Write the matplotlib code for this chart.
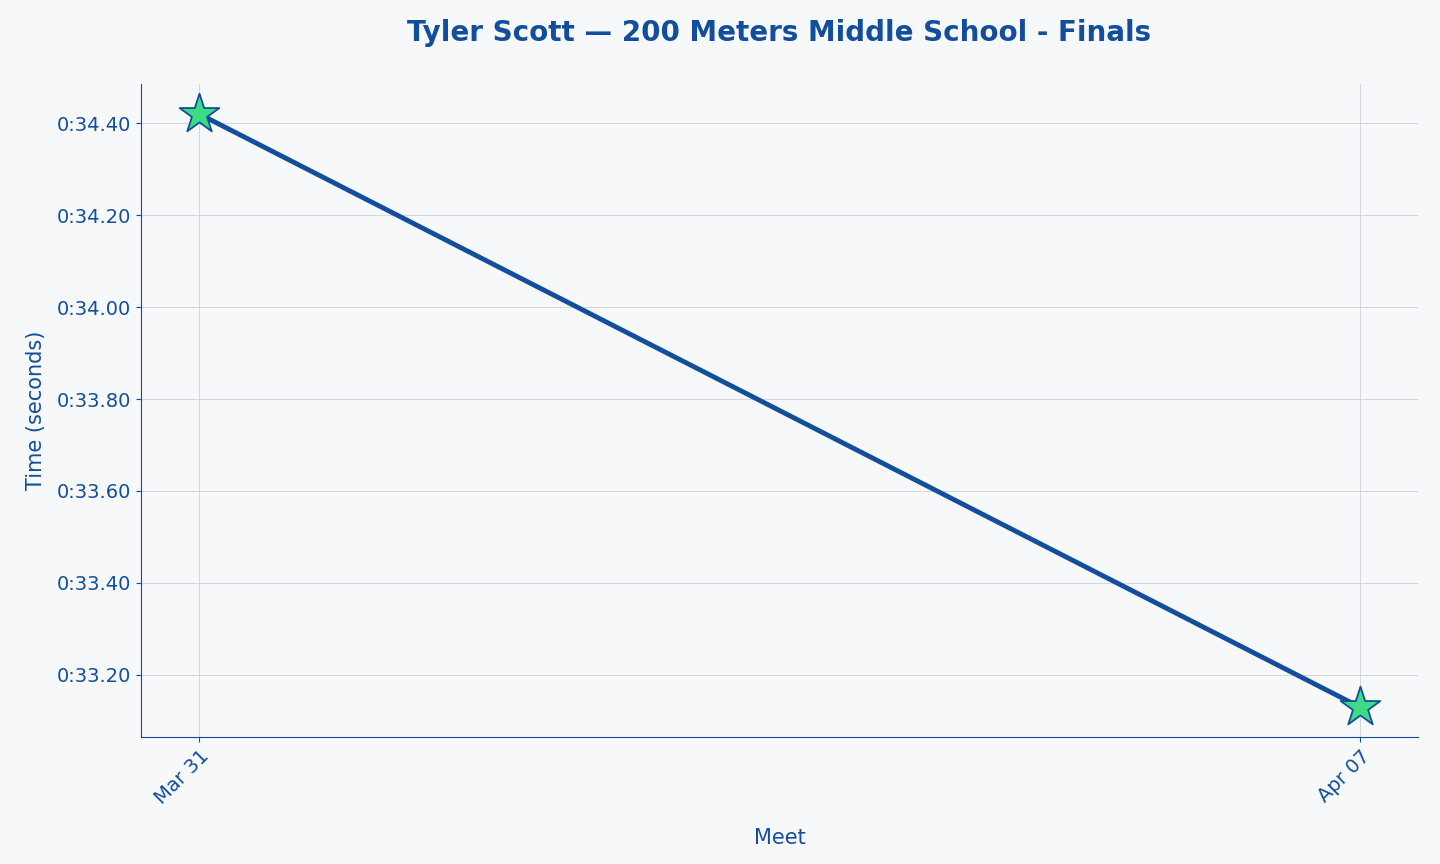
import matplotlib
matplotlib.use("Agg")
import matplotlib.pyplot as plt
from matplotlib.ticker import FuncFormatter

meets = ["Mar 31", "Apr 07"]
times = [34.42, 33.13]

c = "#124e9c"
fig = plt.figure(figsize=(14.4, 8.64), dpi=100, facecolor="#f7f8fa")
ax = fig.add_axes([141/1440, 1-737/864, 1277/1440, 653/864])
ax.set_facecolor("#f7f8fa")
x = list(range(len(meets)))
ax.plot(x, times, color=c, lw=3.5, zorder=2)
ax.scatter(x, times, marker="*", s=900, color="#3ddc84", edgecolor=c, linewidth=1.3, zorder=3)
ax.set_xticks(x)
ax.set_xticklabels(meets, rotation=45, ha="right", rotation_mode="anchor")
ax.yaxis.set_major_formatter(FuncFormatter(lambda v, p: f"0:{v:05.2f}"))
ax.set_yticks([33.2, 33.4, 33.6, 33.8, 34.0, 34.2, 34.4])
ax.set_ylim(33.065, 34.485)
ax.grid(True, color="#d3d6de", lw=0.7)
ax.set_axisbelow(True)
for s in ["top", "right"]:
    ax.spines[s].set_visible(False)
for s in ["left", "bottom"]:
    ax.spines[s].set_color(c)
ax.tick_params(colors=c, labelsize=14)
ax.set_xlabel("Meet", color=c, fontsize=15, labelpad=14)
ax.set_ylabel("Time (seconds)", color=c, fontsize=15, labelpad=8)
fig.suptitle("Tyler Scott — 200 Meters Middle School - Finals", color=c, fontsize=20, fontweight="bold", x=0.541, y=0.978)
fig.savefig("out.png", facecolor=fig.get_facecolor())
